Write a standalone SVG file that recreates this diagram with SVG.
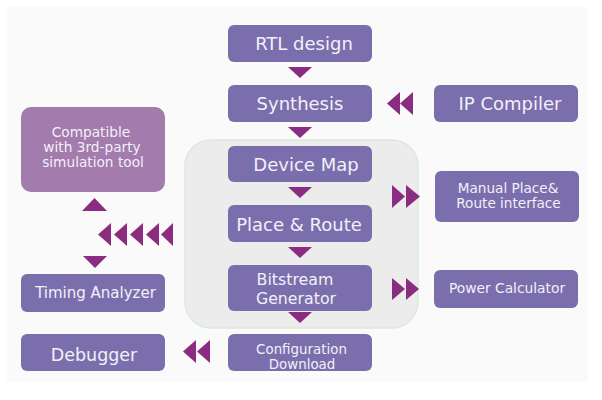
<svg xmlns="http://www.w3.org/2000/svg" width="602" height="400" viewBox="0 0 602 400">
<style>
.box{fill:#7a6fac;}
.box2{fill:#a37bad;}
.t{font-family:"DejaVu Sans",sans-serif;fill:#f3f0f9;text-anchor:middle;}
.ar{fill:#8a2c80;}
</style>
<rect x="0" y="0" width="602" height="400" fill="#ffffff"/>
<rect x="7" y="7" width="581" height="375" fill="#fafafa"/>
<rect id="container" x="185" y="140" width="233" height="188" rx="26" fill="#ececec" stroke="#d9ecd9" stroke-width="1.5"/>

<g id="rtl"><rect class="box" x="228" y="25" width="144" height="37" rx="6"/><text class="t" x="304" y="50" font-size="18">RTL design</text></g>
<g id="synthesis"><rect class="box" x="228" y="85" width="144" height="37" rx="6"/><text class="t" x="300" y="110" font-size="18">Synthesis</text></g>
<g id="ipcompiler"><rect class="box" x="434" y="85" width="144" height="37" rx="6"/><text class="t" x="510" y="110" font-size="18">IP Compiler</text></g>
<g id="compatible"><rect class="box2" x="21" y="107" width="144" height="85" rx="10"/>
<text class="t" x="91" y="137" font-size="13.7">Compatible</text>
<text class="t" x="92" y="152" font-size="13.7">with 3rd-party</text>
<text class="t" x="93" y="167" font-size="13.7">simulation tool</text></g>
<g id="devicemap"><rect class="box" x="228" y="146" width="144" height="36" rx="6"/><text class="t" x="306" y="171" font-size="18">Device Map</text></g>
<g id="placeroute"><rect class="box" x="228" y="205" width="144" height="37" rx="6"/><text class="t" x="299" y="231" font-size="18">Place &amp; Route</text></g>
<g id="bitstream"><rect class="box" x="228" y="265" width="144" height="46" rx="6"/>
<text class="t" x="295" y="285" font-size="15.8">Bitstream</text>
<text class="t" x="296" y="303.5" font-size="15.8">Generator</text></g>
<g id="config"><rect class="box" x="228" y="334" width="144" height="37" rx="6"/>
<text class="t" x="301.5" y="354" font-size="13.4">Configuration</text>
<text class="t" x="302" y="369" font-size="13.4">Download</text></g>
<g id="manual"><rect class="box" x="435" y="171" width="144" height="51" rx="6"/>
<text class="t" x="508" y="193" font-size="13.6">Manual Place&amp;</text>
<text class="t" x="508.5" y="208" font-size="13.6">Route interface</text></g>
<g id="power"><rect class="box" x="434" y="270" width="144" height="38" rx="6"/><text class="t" x="507" y="293" font-size="13.8">Power Calculator</text></g>
<g id="timing"><rect class="box" x="21" y="274" width="144" height="38" rx="6"/><text class="t" x="95.5" y="298" font-size="15">Timing Analyzer</text></g>
<g id="debugger"><rect class="box" x="21" y="334" width="144" height="37" rx="6"/><text class="t" x="94" y="361" font-size="17.5">Debugger</text></g>

<g id="connectors" class="ar">
<polygon points="288,67 312,67 300,78"/>
<polygon points="288,127 312,127 300,138"/>
<polygon points="288,187 312,187 300,198"/>
<polygon points="288,247 312,247 300,258"/>
<polygon points="288,312 312,312 300,323"/>
<polygon points="387,103.5 400,92 400,115"/>
<polygon points="400,103.5 413,92 413,115"/>
<polygon points="392,185 405,196.5 392,208"/>
<polygon points="406,185 420,196.5 406,208"/>
<polygon points="392,278 405,289 392,300"/>
<polygon points="406,278 419,289 406,300"/>
<polygon points="183,351.5 196,340 196,363"/>
<polygon points="197,351.5 210,340 210,363"/>
<polygon points="98,234.5 111,223 111,246"/>
<polygon points="114,234.5 127,223 127,246"/>
<polygon points="130,234.5 143,223 143,246"/>
<polygon points="146,234.5 159,223 159,246"/>
<polygon points="161,234.5 173,223 173,246"/>
<polygon points="82,211 107,211 94.5,198"/>
<polygon points="83,256 107,256 95,268"/>
</g>
</svg>
